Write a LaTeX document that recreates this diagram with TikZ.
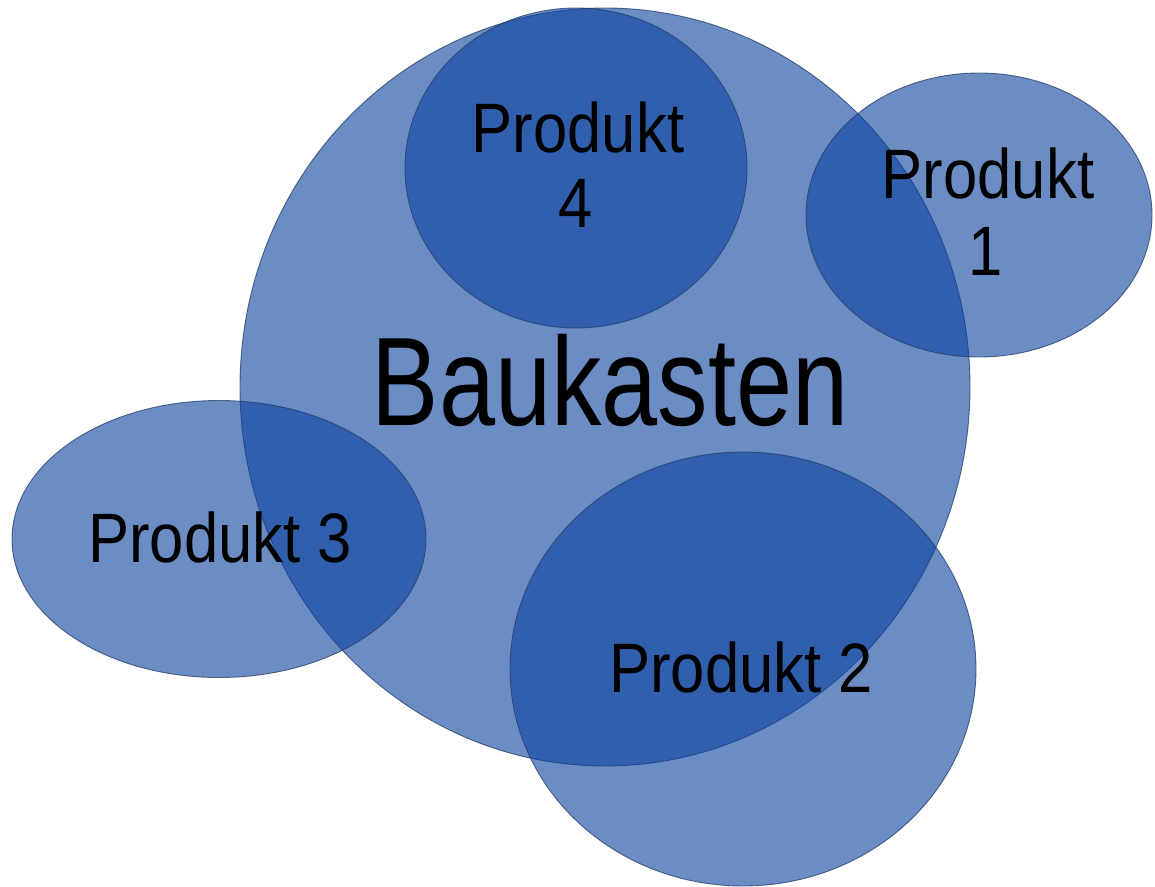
\documentclass[tikz,border=0pt]{standalone}
\usepackage{fontspec}
\setmainfont{Liberation Sans}
\usetikzlibrary{shapes.geometric}
\definecolor{bubblefill}{RGB}{8,65,157}
\definecolor{rimcol}{RGB}{35,60,105}
\tikzset{
  bubble/.style={ellipse, inner sep=0pt, fill=bubblefill, fill opacity=0.6,
    draw=rimcol, draw opacity=0.75, line width=0.9pt},
  lbl/.style={inner sep=0pt, anchor=base, text=black,
    font=\fontsize{70}{77}\selectfont},
  biglbl/.style={inner sep=0pt, anchor=base, text=black,
    font=\fontsize{126}{130}\selectfont},
}
\newcommand{\sqz}[1]{\scalebox{0.88}[1]{#1}}
\newcommand{\sqzbig}[1]{\scalebox{0.80}[1]{#1}}
\begin{document}
\begin{tikzpicture}[x=1pt,y=-1pt]
\useasboundingbox (0,0) rectangle (1155,886);
% bubbles
\node[bubble, minimum width=730pt, minimum height=758pt] (bau) at (605,387) {};
\node[bubble, minimum width=342pt, minimum height=320pt] (p4) at (576,168) {};
\node[bubble, minimum width=346pt, minimum height=284pt] (p1) at (979,215) {};
\node[bubble, minimum width=414pt, minimum height=277pt] (p3) at (219,539) {};
\node[bubble, minimum width=466pt, minimum height=434pt] (p2) at (743,669) {};
% texts
\node[biglbl] (tbau) at (610,425) {\sqzbig{Baukasten}};
\node[lbl] (t4a) at (578,152) {\sqz{Produkt}};
\node[lbl] (t4b) at (576,227) {\sqz{4}};
\node[lbl] (t1a) at (988,198) {\sqz{Produkt}};
\node[lbl] (t1b) at (986,275) {\sqz{1}};
\node[lbl] (t3) at (220,562) {\sqz{Produkt 3}};
\node[lbl] (t2) at (741,692) {\sqz{Produkt 2}};
\end{tikzpicture}
\end{document}
